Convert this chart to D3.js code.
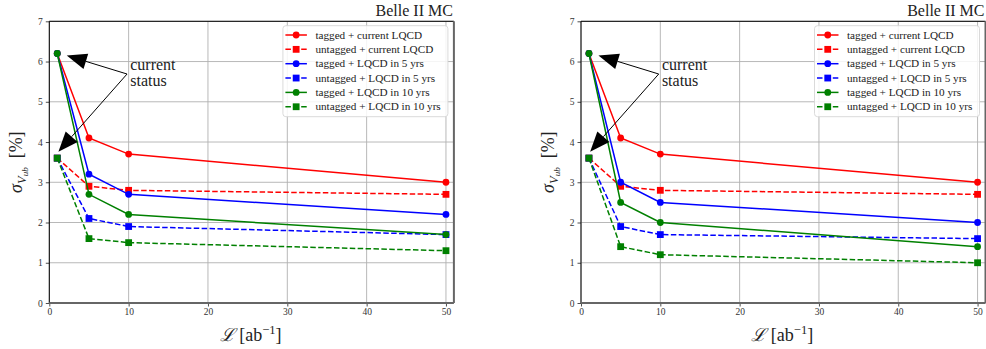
<!DOCTYPE html>
<html><head><meta charset="utf-8">
<script src="https://cdn.jsdelivr.net/npm/d3@7"></script>
<style>
html,body{margin:0;padding:0;background:#fff;}
svg{display:block;font-family:"Liberation Serif","DejaVu Serif",serif;}
</style></head>
<body>
<svg id="chart" width="986" height="349"></svg>
<script>
// ---- data ----
const lumi = [1, 5, 10, 50];
const seriesLabels = [
  "tagged + current LQCD",
  "untagged + current LQCD",
  "tagged + LQCD in 5 yrs",
  "untagged + LQCD in 5 yrs",
  "tagged + LQCD in 10 yrs",
  "untagged + LQCD in 10 yrs"
];
const seriesColors = ["#ff0000", "#ff0000", "#0000ff", "#0000ff", "#008000", "#008000"];
const seriesTagged = [true, false, true, false, true, false];

const leftTaggedCurrent   = [6.2, 4.1, 3.7, 3.0];
const leftUntaggedCurrent = [3.6, 2.9, 2.8, 2.7];
const leftTagged5         = [6.2, 3.2, 2.7, 2.2];
const leftUntagged5       = [3.6, 2.1, 1.9, 1.7];
const leftTagged10        = [6.2, 2.7, 2.2, 1.7];
const leftUntagged10      = [3.6, 1.6, 1.5, 1.3];

const rightTaggedCurrent   = [6.2, 4.1, 3.7, 3.0];
const rightUntaggedCurrent = [3.6, 2.9, 2.8, 2.7];
const rightTagged5         = [6.2, 3.0, 2.5, 2.0];
const rightUntagged5       = [3.6, 1.9, 1.7, 1.6];
const rightTagged10        = [6.2, 2.5, 2.0, 1.4];
const rightUntagged10      = [3.6, 1.4, 1.2, 1.0];

const xTicks = [0, 10, 20, 30, 40, 50];
const yTicks = [0, 1, 2, 3, 4, 5, 6, 7];
const xDomain = [0, 51];
const yDomain = [0, 7];
const titleText = "Belle II MC";
const annotLines = ["current", "status"];
// annotation anchors in data coordinates
const annotTextPos = [10.2, 5.8];
const annotTail = [9.8, 5.69];
const annotTips = [[2.2, 6.15], [1.15, 3.76]];

const leftSeries = [leftTaggedCurrent, leftUntaggedCurrent, leftTagged5, leftUntagged5, leftTagged10, leftUntagged10];
const rightSeries = [rightTaggedCurrent, rightUntaggedCurrent, rightTagged5, rightUntagged5, rightTagged10, rightUntagged10];

// ---- drawing ----
const svg = d3.select("#chart");

function drawPanel(seriesVals, x0, x1) {
  const top = 21.3, bottom = 303;
  const x = d3.scaleLinear().domain(xDomain).range([x0, x1]);
  const y = d3.scaleLinear().domain(yDomain).range([bottom, top]);
  const g = svg.append("g");

  // grid
  g.append("g").selectAll("line").data(xTicks).join("line")
    .attr("x1", d => x(d)).attr("x2", d => x(d)).attr("y1", top).attr("y2", bottom)
    .attr("stroke", "#b0b0b0").attr("stroke-width", 0.9);
  g.append("g").selectAll("line").data(yTicks).join("line")
    .attr("x1", x0).attr("x2", x1).attr("y1", d => y(d)).attr("y2", d => y(d))
    .attr("stroke", "#b0b0b0").attr("stroke-width", 0.9);

  // axes
  const xAxis = d3.axisBottom(x).tickValues(xTicks).tickSize(3.5).tickPadding(2).tickFormat(d3.format("d"));
  const yAxis = d3.axisLeft(y).tickValues(yTicks).tickSize(3.5).tickPadding(3).tickFormat(d3.format("d"));
  const gx = g.append("g").attr("transform", `translate(0,${bottom})`).call(xAxis);
  const gy = g.append("g").attr("transform", `translate(${x0},0)`).call(yAxis);
  [gx, gy].forEach(a => {
    a.select(".domain").remove();
    a.selectAll(".tick line").attr("stroke", "#222").attr("stroke-width", 0.8);
    a.selectAll(".tick text").attr("font-family", "Liberation Serif, DejaVu Serif, serif")
      .attr("font-size", 9.5).attr("fill", "#333");
  });

  // spines
  g.append("line").attr("x1", x0).attr("x2", x1).attr("y1", top).attr("y2", top).attr("stroke", "#000").attr("stroke-width", 1);
  g.append("line").attr("x1", x0).attr("x2", x0).attr("y1", top).attr("y2", bottom).attr("stroke", "#000").attr("stroke-width", 1);
  g.append("line").attr("x1", x0).attr("x2", x1).attr("y1", bottom).attr("y2", bottom).attr("stroke", "#666").attr("stroke-width", 2);
  g.append("line").attr("x1", x1).attr("x2", x1).attr("y1", top).attr("y2", bottom).attr("stroke", "#666").attr("stroke-width", 2);

  // series
  const line = d3.line().x(d => x(d[0])).y(d => y(d[1]));
  seriesVals.forEach((vals, i) => {
    const pts = lumi.map((l, j) => [l, vals[j]]);
    const col = seriesColors[i];
    g.append("path").attr("d", line(pts)).attr("fill", "none").attr("stroke", col)
      .attr("stroke-width", 1.5).attr("stroke-dasharray", seriesTagged[i] ? null : "5.5,2.4");
    if (seriesTagged[i]) {
      g.append("g").selectAll("circle").data(pts).join("circle")
        .attr("cx", d => x(d[0])).attr("cy", d => y(d[1])).attr("r", 3.4).attr("fill", col);
    } else {
      g.append("g").selectAll("rect").data(pts).join("rect")
        .attr("x", d => x(d[0]) - 3.4).attr("y", d => y(d[1]) - 3.4)
        .attr("width", 6.8).attr("height", 6.8).attr("fill", col);
    }
  });

  // annotation
  const tx = x(annotTail[0]), ty = y(annotTail[1]);
  annotTips.forEach(tp => {
    const px = x(tp[0]), py = y(tp[1]);
    const dx = px - tx, dy = py - ty, len = Math.hypot(dx, dy);
    const ux = dx / len, uy = dy / len;
    const hl = 20, hw = 8;
    const bx = px - ux * hl, by = py - uy * hl;
    g.append("line").attr("x1", tx).attr("y1", ty).attr("x2", bx).attr("y2", by)
      .attr("stroke", "#000").attr("stroke-width", 1);
    g.append("polygon").attr("points", [
      [px, py], [bx - uy * hw, by + ux * hw], [bx + uy * hw, by - ux * hw]
    ].map(p => p.join(",")).join(" ")).attr("fill", "#000");
  });
  annotLines.forEach((t, k) => {
    g.append("text").attr("x", x(annotTextPos[0])).attr("y", y(annotTextPos[1]) + k * 16)
      .attr("font-size", 16).attr("fill", "#222").text(t);
  });

  // legend
  const lw = 165, lh = 91;
  const lx = x1 - 6 - lw, ly = top + 4.4;
  const lg = g.append("g");
  lg.append("rect").attr("x", lx).attr("y", ly).attr("width", lw).attr("height", lh)
    .attr("rx", 3).attr("fill", "rgba(255,255,255,0.85)").attr("stroke", "#d6d6d6").attr("stroke-width", 0.9);
  seriesLabels.forEach((lab, i) => {
    const ry = ly + 9.3 + i * 14.35;
    const sx0 = lx + 2.5, sx1 = lx + 24, mx = (sx0 + sx1) / 2;
    const col = seriesColors[i];
    lg.append("line").attr("x1", sx0).attr("x2", sx1).attr("y1", ry).attr("y2", ry)
      .attr("stroke", col).attr("stroke-width", 1.5).attr("stroke-dasharray", seriesTagged[i] ? null : "5.5,2.4");
    if (seriesTagged[i]) {
      lg.append("circle").attr("cx", mx).attr("cy", ry).attr("r", 3.4).attr("fill", col);
    } else {
      lg.append("rect").attr("x", mx - 3.4).attr("y", ry - 3.4).attr("width", 6.8).attr("height", 6.8).attr("fill", col);
    }
    lg.append("text").attr("x", lx + 32.5).attr("y", ry + 3.6).attr("font-size", 11.2).attr("fill", "#222").text(lab);
  });

  // title
  g.append("text").attr("x", x1 - 1).attr("y", 16).attr("text-anchor", "end")
    .attr("font-size", 16).attr("fill", "#222").text(titleText);

  // y label
  const yl = g.append("text").attr("transform", `translate(${x0 - 27},${(top + bottom) / 2}) rotate(-90)`)
    .attr("text-anchor", "middle").attr("font-size", 18).attr("fill", "#222");
  yl.append("tspan").attr("font-style", "italic").text("σ");
  yl.append("tspan").attr("font-style", "italic").attr("font-size", 12.5).attr("dy", 4).text("V");
  yl.append("tspan").attr("font-style", "italic").attr("font-size", 9).attr("dy", 2).text("ub");
  yl.append("tspan").attr("dy", -6).text("\u2002[%]");

  // x label
  const xl = g.append("text").attr("x", (x0 + x1) / 2 - 1).attr("y", 341)
    .attr("text-anchor", "middle").attr("font-size", 18).attr("fill", "#222");
  xl.append("tspan").attr("font-style", "italic").text("ℒ");
  xl.append("tspan").text(" [ab");
  xl.append("tspan").attr("font-size", 12.5).attr("dy", -7).text("−1");
  xl.append("tspan").attr("dy", 7).text("]");
}

drawPanel(leftSeries, 49.3, 453.9);
drawPanel(rightSeries, 581, 985.5);
</script>
</body></html>
